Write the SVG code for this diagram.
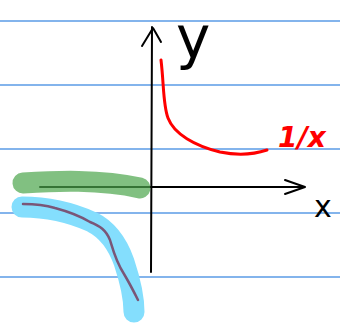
<svg xmlns="http://www.w3.org/2000/svg" width="340" height="325" viewBox="0 0 340 325">
<style>
.rule{stroke:#5a9be6;stroke-width:1.3}
.ink{fill:none;stroke:#000;stroke-width:2;stroke-linecap:round;stroke-linejoin:round}
.hl{fill:none;stroke-linecap:round;stroke-linejoin:round;stroke-width:21}
</style>
<rect width="340" height="325" fill="#fff"/>
<g id="rules">
<line class="rule" x1="0" y1="21" x2="340" y2="21"/>
<line class="rule" x1="0" y1="85" x2="340" y2="85"/>
<line class="rule" x1="0" y1="149" x2="340" y2="149"/>
<line class="rule" x1="0" y1="213" x2="340" y2="213"/>
<line class="rule" x1="0" y1="277" x2="340" y2="277"/>
</g>
<g id="blue-highlight">
<path class="hl" stroke="#84defd" d="M22,207 C45,207 70,212 92,222 C108,230 118,245 124,262 C130,280 134,295 134,312"/>
</g>
<g id="axes">
<path class="ink" d="M151,272 L152,27"/>
<path class="ink" d="M142,46 L153,28 L161,42"/>
<path class="ink" d="M40,187 L304,187"/>
<path class="ink" d="M285,180 L305,187 L285,194"/>
</g>
<g id="green-highlight">
<path class="hl" stroke="#4ca54c" stroke-opacity="0.7" d="M23,183 C55,181 100,179 140,188"/>
</g>
<g id="purple-curve">
<path fill="none" stroke="#7a5677" stroke-width="2.5" stroke-linecap="round" stroke-linejoin="round" d="M23,204 C35,204 45,205 55,208 C70,212 80,216 90,222 C100,226 106,230 110,240 C113,250 116,262 124,274 C130,284 134,292 138,300"/>
</g>
<g id="red-curve">
<path fill="none" stroke="#ff0000" stroke-width="3" stroke-linecap="round" stroke-linejoin="round" d="M161,60 C164,85 163,105 168,118 C174,134 195,146 220,152 C240,156 255,154 267,150"/>
</g>
<g id="labels" font-family="'DejaVu Sans', sans-serif">
<text x="176" y="58" font-size="58" fill="#000">y</text>
<text x="314" y="217" font-size="30" fill="#000">x</text>
<text x="278" y="147" font-size="28" fill="#ff0000" font-weight="bold" font-style="italic">1/x</text>
</g>
</svg>
